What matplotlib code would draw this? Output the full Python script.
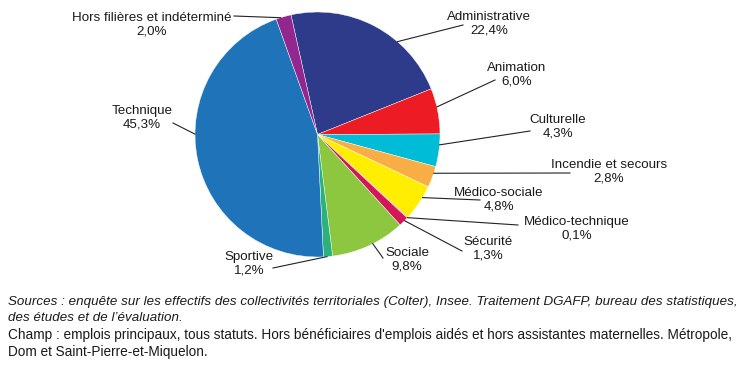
import matplotlib
matplotlib.use("Agg")
import matplotlib.pyplot as plt
import numpy as np

# parts des effectifs par filière (%)
filieres = ["Administrative", "Animation", "Culturelle", "Incendie et secours",
            "Médico-sociale", "Médico-technique", "Sécurité", "Sociale",
            "Sportive", "Technique", "Hors filières et indéterminé"]
parts = [22.4, 6.0, 4.3, 2.8, 4.8, 0.1, 1.3, 9.8, 1.2, 45.3, 2.0]
parts_txt = ["22,4%", "6,0%", "4,3%", "2,8%", "4,8%", "0,1%", "1,3%", "9,8%",
             "1,2%", "45,3%", "2,0%"]

colors = ["#2E3A8A", "#ED1C24", "#00BCD6", "#F9AE45", "#FFEE00", "#C2185B",
          "#D3185A", "#8DC63F", "#2BB17A", "#1F74B9", "#92278F"]

# layout (pixels): label center, leader end near label, anchor fraction in wedge
lab_xy = [(489, 24), (517, 75), (558, 127), (609, 171.5), (499, 199.5),
          (577, 228.5), (488, 248.5), (407, 260), (249, 264), (142, 118),
          (152, 24.5)]
line_end = [(463, 25), (495, 80), (530, 131), (570, 173), (480, 200),
            (518, 225), (462, 251), (383, 258), (273, 268), (173, 123),
            (234, 16)]
anchor_frac = [0.66, 0.41, 0.33, 0.32, 0.33, 0.5, 0.38, 0.44, 0.62, 0.57, 0.3]

notes = [
    ("Sources : enquête sur les effectifs des collectivités territoriales (Colter), Insee. "
     "Traitement DGAFP, bureau des statistiques,", "italic", 9.6),
    ("des études et de l’évaluation.", "italic", 9.6),
    ("Champ : emplois principaux, tous statuts. Hors bénéficiaires d'emplois aidés et hors "
     "assistantes maternelles. Métropole,", "normal", 9.85),
    ("Dom et Saint-Pierre-et-Miquelon.", "normal", 9.85),
]
notes_y = [302, 318, 335, 352]

W, H = 746, 372
cx, cy, R = 317.5, H - 134.5, 122.5
start = 102.5

fig = plt.figure(figsize=(W / 100, H / 100), dpi=100)
ax = fig.add_axes([0, 0, 1, 1])

ax.pie(parts, colors=colors, startangle=start, counterclock=False,
       center=(cx, cy), radius=R, normalize=True,
       wedgeprops=dict(edgecolor="white", linewidth=0.3))
ax.set_xlim(0, W)
ax.set_ylim(0, H)
ax.set_aspect("equal")
ax.axis("off")

font = ["Liberation Sans", "DejaVu Sans"]
cum = np.cumsum([0] + parts[:-1])
for i, name in enumerate(filieres):
    a0 = start - cum[i] * 3.6
    ang = np.radians(a0 - anchor_frac[i] * parts[i] * 3.6)
    px, py = cx + R * np.cos(ang), cy + R * np.sin(ang)
    ex, ey = line_end[i][0], H - line_end[i][1]
    ax.plot([px, ex], [py, ey], color="#222222", lw=0.8)
    ax.text(lab_xy[i][0], H - lab_xy[i][1], name + "\n" + parts_txt[i],
            ha="center", va="center", fontsize=9.6, family=font,
            color="#1a1a1a", linespacing=1.2)

for (txt, st, fs), y in zip(notes, notes_y):
    fig.text(8 / W, 1 - y / H, txt, ha="left", va="center", fontsize=fs,
             style=st, family=font, color="#1a1a1a")

fig.savefig("out.png", dpi=100)
